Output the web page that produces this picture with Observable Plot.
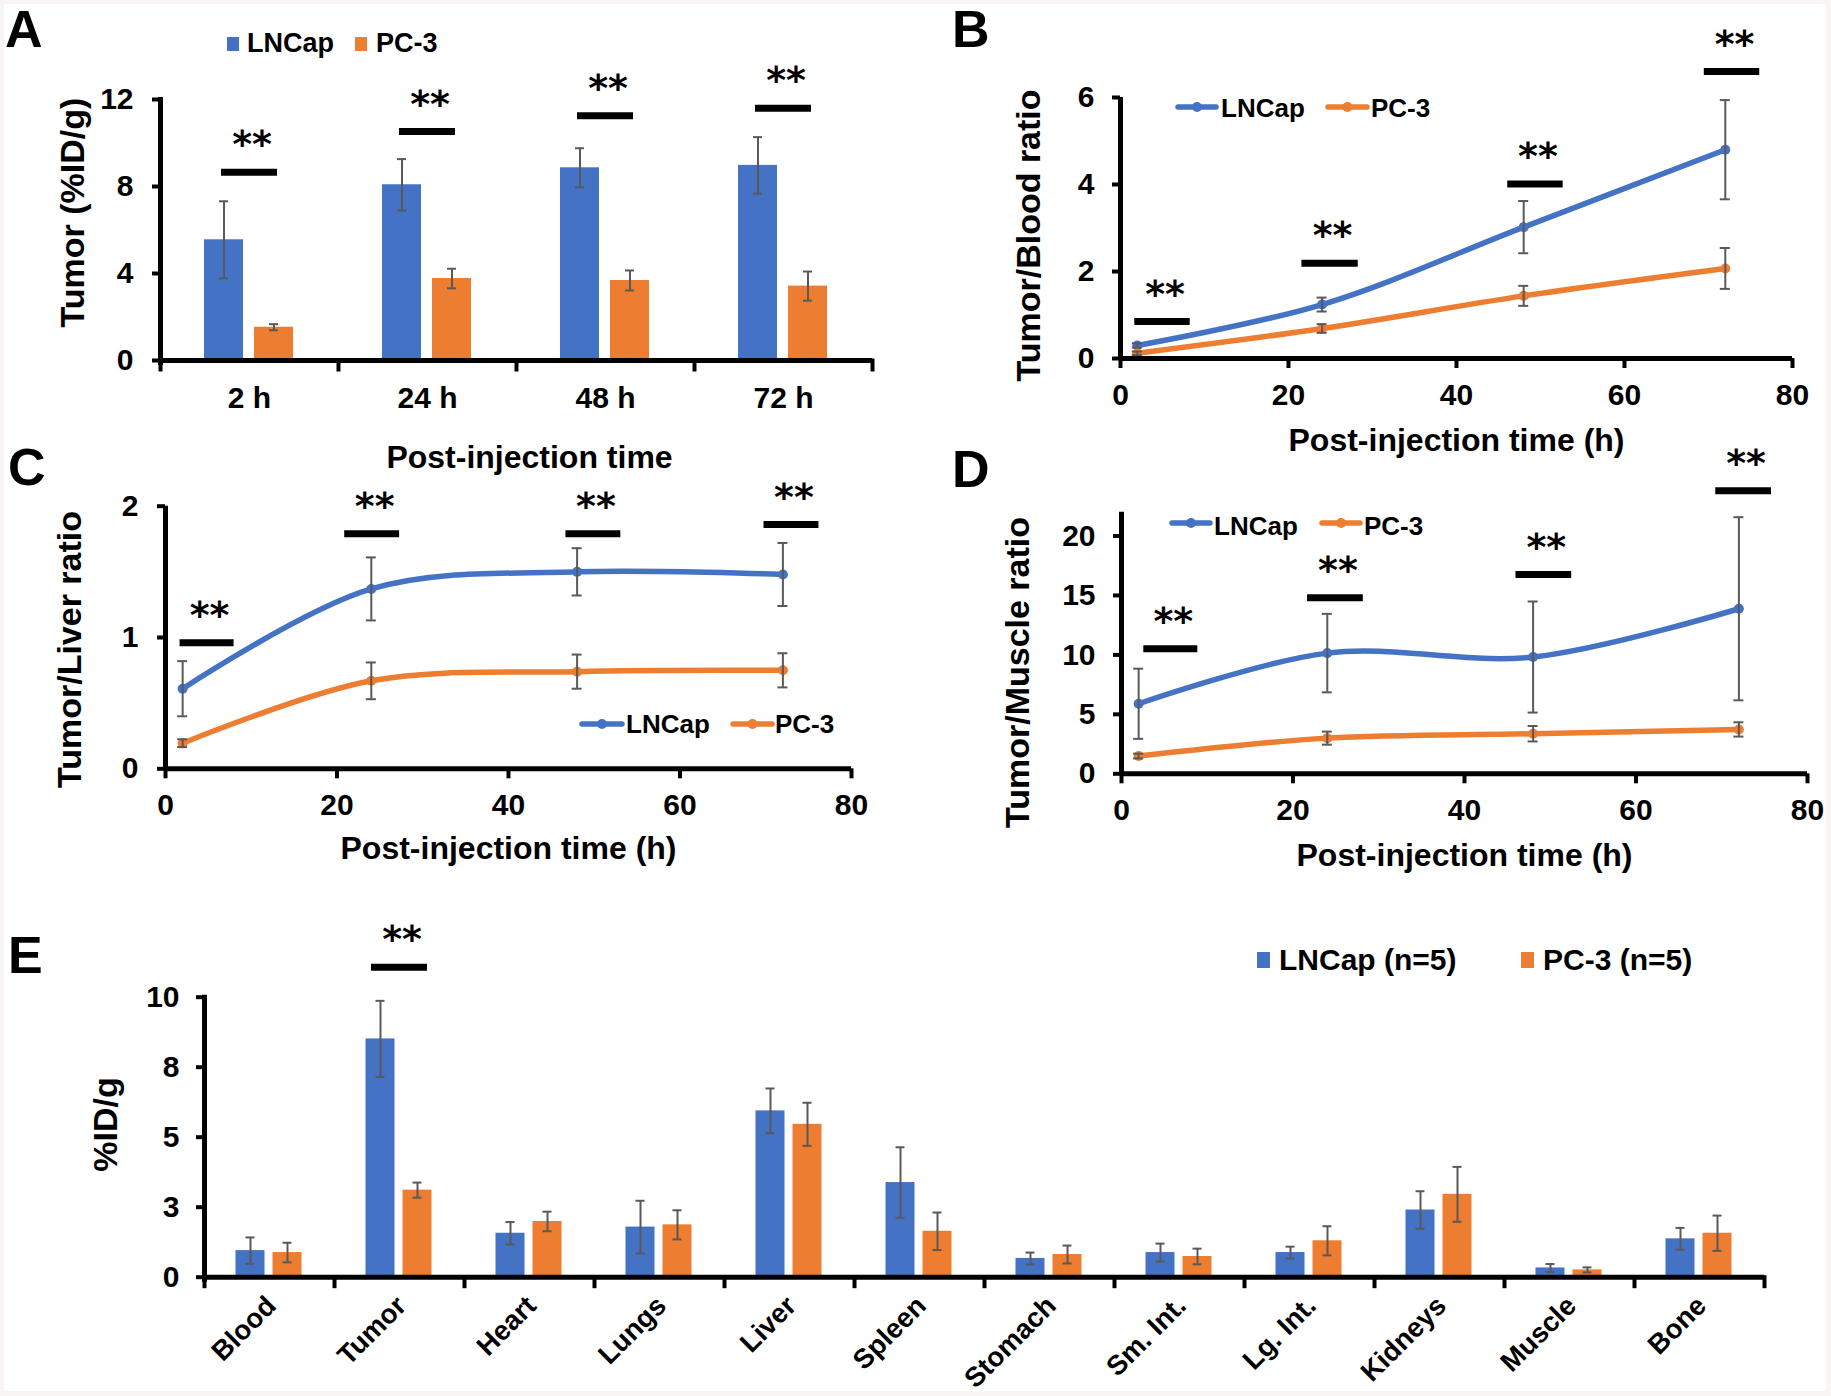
<!DOCTYPE html>
<html>
<head>
<meta charset="utf-8">
<script src="https://cdn.jsdelivr.net/npm/d3@7"></script>
<script src="https://cdn.jsdelivr.net/npm/@observablehq/plot@0.6"></script>
<style>
  body { margin: 0; background: #f9f5f5; }
  #fig { position: relative; width: 1831px; height: 1396px; background: #f9f5f5; overflow: hidden; }
  #paper { position: absolute; left: 4px; top: 4px; width: 1822px; height: 1387px; background: #ffffff; }
  .panel { position: absolute; }
  .panel svg { overflow: visible; background: transparent; }
  g[aria-label="stars"] text { letter-spacing: 5px; }
</style>
</head>
<body>
<div id="fig"><div id="paper"></div></div>
<script>
// ---------------- data ----------------
const series = ["LNCap", "PC-3"];
const seriesColors = ["#4472C4", "#ED7D31"];

// Panel A: Tumor uptake (%ID/g) by time
const timeLabels = ["2 h", "24 h", "48 h", "72 h"];
const aLNCap = [5.55, 8.08, 8.86, 8.97];
const aLNCapErr = [1.77, 1.18, 0.90, 1.30];
const aPC3 = [1.53, 3.77, 3.68, 3.42];
const aPC3Err = [0.14, 0.45, 0.46, 0.67];
const aSigY = [8.66, 10.53, 11.25, 11.6];
const aTicks = [0, 4, 8, 12];

// Panels B-D: ratios vs post-injection time (h)
const hours = [2, 24, 48, 72];
const xTicks = [0, 20, 40, 60, 80];

const bLNCap = [0.30, 1.24, 3.02, 4.80];
const bLNCapErr = [0.05, 0.16, 0.60, 1.14];
const bPC3 = [0.12, 0.69, 1.44, 2.07];
const bPC3Err = [0.04, 0.10, 0.23, 0.47];
const bSigX1 = [1.7, 21.6, 46.1, 69.5];
const bSigX2 = [8.3, 28.3, 52.7, 76.1];
const bSigY = [0.85, 2.19, 4.01, 6.6];
const bTicks = [0, 2, 4, 6];

const cLNCap = [0.61, 1.37, 1.50, 1.48];
const cLNCapErr = [0.21, 0.24, 0.18, 0.24];
const cPC3 = [0.195, 0.67, 0.74, 0.75];
const cPC3Err = [0.03, 0.14, 0.13, 0.13];
const cSigX1 = [1.7, 20.9, 46.7, 69.8];
const cSigX2 = [8.0, 27.3, 53.1, 76.2];
const cSigY = [0.96, 1.79, 1.79, 1.86];
const cTicks = [0, 1, 2];

const dLNCap = [5.89, 10.15, 9.82, 13.88];
const dLNCapErr = [2.95, 3.30, 4.67, 7.70];
const dPC3 = [1.49, 3.00, 3.37, 3.73];
const dPC3Err = [0.20, 0.55, 0.65, 0.60];
const dSigX1 = [2.6, 21.7, 46.0, 69.3];
const dSigX2 = [8.9, 28.2, 52.5, 75.8];
const dSigY = [10.52, 14.8, 16.77, 23.8];
const dTicks = [0, 5, 10, 15, 20];

// Panel E: biodistribution (%ID/g)
const organs = ["Blood", "Tumor", "Heart", "Lungs", "Liver", "Spleen", "Stomach", "Sm. Int.", "Lg. Int.", "Kidneys", "Muscle", "Bone"];
const eLNCap = [0.95, 8.51, 1.57, 1.79, 5.94, 3.38, 0.67, 0.88, 0.88, 2.40, 0.33, 1.37];
const eLNCapErr = [0.47, 1.36, 0.40, 0.94, 0.80, 1.26, 0.21, 0.32, 0.21, 0.67, 0.14, 0.39];
const ePC3 = [0.88, 3.11, 1.99, 1.87, 5.46, 1.64, 0.81, 0.74, 1.30, 2.96, 0.26, 1.57];
const ePC3Err = [0.35, 0.27, 0.35, 0.52, 0.77, 0.67, 0.32, 0.28, 0.52, 0.98, 0.09, 0.63];
const eSigOrgans = ["Tumor"];
const eSigY = [11.07];
const eTicks = [0, 2.5, 5, 7.5, 10];
const eTickLabels = ["0", "3", "5", "8", "10"];

// ---------------- helpers ----------------
function pairRows(cats, ln, lnE, pc, pcE) {
  const out = [];
  cats.forEach((c, i) => {
    out.push({c, s: series[0], v: ln[i], e: lnE[i]});
    out.push({c, s: series[1], v: pc[i], e: pcE[i]});
  });
  return out;
}
function sigRows(x1, x2, y) { return y.map((v, i) => ({x1: x1[i], x2: x2[i], y: v})); }

const FONT = "'Liberation Sans', Arial, Helvetica, sans-serif";
const svgStyle = `font-family:${FONT};font-weight:bold;font-size:30px;background:transparent;overflow:visible;color:#000;`;
const ERR = "#595959";
const color = {domain: series, range: seriesColors};
const starOpts = {fontFamily: "'DejaVu Sans', sans-serif", fontSize: 38, fontWeight: "bold", lineAnchor: "middle", dy: -27, dx: 2.5, ariaLabel: "stars"};
const intFormat = d => String(d);

function mount(node, left, top, width) {
  const d = document.createElement("div");
  d.className = "panel";
  d.style.left = left + "px";
  d.style.top = top + "px";
  d.style.width = width + "px";
  d.appendChild(node);
  document.getElementById("fig").appendChild(d);
}

// ---------------- bar panel (A, E) ----------------
function barPanel(o) {
  const frameH = o.height - o.mT - o.mB;
  return Plot.plot({
    width: o.width, height: o.height,
    marginLeft: o.mL, marginRight: o.mR, marginTop: o.mT, marginBottom: o.mB,
    style: svgStyle,
    fx: {domain: o.cats, padding: 0, axis: null},
    x: {domain: series, paddingInner: o.pI, paddingOuter: o.pO, axis: null},
    y: {domain: o.yDomain},
    color,
    marks: [
      Plot.barY(o.data, {fx: "c", x: "s", y: "v", fill: "s"}),
      Plot.ruleX(o.data, {fx: "c", x: "s", y1: d => d.v - d.e, y2: d => d.v + d.e, stroke: ERR, strokeWidth: 2}),
      Plot.tickY(o.data, {fx: "c", x: "s", y: d => d.v + d.e, stroke: ERR, strokeWidth: 2, insetLeft: o.cap, insetRight: o.cap}),
      Plot.tickY(o.data, {fx: "c", x: "s", y: d => d.v - d.e, stroke: ERR, strokeWidth: 2, insetLeft: o.cap, insetRight: o.cap}),
      Plot.ruleY([0], {stroke: "#000", strokeWidth: 5}),
      Plot.frame({anchor: "left", stroke: "#000", strokeWidth: 4, insetTop: frameH, insetBottom: -9}),
      Plot.frame({anchor: "right", facet: "super", stroke: "#000", strokeWidth: 4, insetTop: frameH, insetBottom: -9}),
      Plot.frame({anchor: "left", facet: "super", stroke: "#000", strokeWidth: 5, insetBottom: -2}),
      Plot.axisY({ticks: o.yTicks, tickFormat: o.yFormat, tickSize: 8, tickPadding: o.yPad, strokeWidth: 4, label: null, fontSize: 30, facetAnchor: "left"}),
      Plot.ruleY(o.sig, {fx: "c", y: "y", stroke: "#000", strokeWidth: 7, insetLeft: o.sigInset, insetRight: o.sigInset}),
      Plot.text(o.sig, {fx: "c", y: "y", text: d => "**", ...starOpts}),
      o.catText,
      ...o.titles
    ]
  });
}

const aData = pairRows(timeLabels, aLNCap, aLNCapErr, aPC3, aPC3Err);
const aSig = aSigY.map((y, i) => ({c: timeLabels[i], y}));
const plotA = barPanel({
  width: 900, height: 470, mL: 160, mR: 28, mT: 59, mB: 150,
  cats: timeLabels, data: aData, sig: aSig, yDomain: [0, 12], yTicks: aTicks, yFormat: intFormat, yPad: 19,
  pI: 0.216, pO: 0.86, cap: 15, sigInset: 61,
  catText: Plot.text(timeLabels, {fx: d => d, text: d => d, frameAnchor: "bottom", textAnchor: "middle", lineAnchor: "middle", dy: 38, fontSize: 30}),
  titles: [
    Plot.text(["Post-injection time"], {facet: "super", text: d => d, frameAnchor: "bottom", textAnchor: "middle", lineAnchor: "middle", dy: 97, dx: 13, fontSize: 32}),
    Plot.text(["Tumor (%ID/g)"], {facet: "super", text: d => d, frameAnchor: "left", textAnchor: "middle", rotate: -90, lineAnchor: "middle", dx: -87, dy: -17.5, fontSize: 34})
  ]
});
mount(plotA, 0, 40, 900);

const eData = pairRows(organs, eLNCap, eLNCapErr, ePC3, ePC3Err);
const eSig = eSigY.map((y, i) => ({c: eSigOrgans[i], y}));
const plotE = barPanel({
  width: 1831, height: 496, mL: 199.5, mR: 63.4, mT: 96.7, mB: 119.3,
  cats: organs, data: eData, sig: eSig, yDomain: [0, 10], yTicks: eTicks, yFormat: d => eTickLabels[eTicks.indexOf(d)], yPad: 17,
  pI: 0.21, pO: 0.82, cap: 10, sigInset: 37,
  catText: Plot.text(organs, {fx: d => d, text: d => d, frameAnchor: "bottom", rotate: -45, textAnchor: "end", lineAnchor: "middle", dx: 2, dy: 24, fontSize: 27.5}),
  titles: [
    Plot.text(["%ID/g"], {facet: "super", text: d => d, frameAnchor: "left", textAnchor: "middle", rotate: -90, lineAnchor: "middle", dx: -98.5, dy: -12.7, fontSize: 34})
  ]
});
mount(plotE, 0, 900, 1831);

// ---------------- line panels (B, C, D) ----------------
function linePanel(o) {
  const data = pairRows(hours, o.ln, o.lnE, o.pc, o.pcE);
  const sig = sigRows(o.sx1, o.sx2, o.sy);
  return Plot.plot({
    width: o.width, height: o.height,
    marginLeft: o.mL, marginRight: o.mR, marginTop: o.mT, marginBottom: o.mB,
    style: svgStyle,
    x: {domain: [0, 80]},
    y: {domain: o.yDomain},
    color,
    marks: [
      Plot.line(data, {x: "c", y: "v", z: "s", stroke: "s", curve: "catmull-rom", strokeWidth: 5.5}),
      Plot.dot(data, {x: "c", y: "v", fill: "s", r: 5}),
      Plot.ruleX(data, {x: "c", y1: d => d.v - d.e, y2: d => d.v + d.e, stroke: ERR, strokeWidth: 2}),
      Plot.ruleY(data, {x1: "c", x2: "c", y: d => d.v + d.e, stroke: ERR, strokeWidth: 2, insetLeft: -5, insetRight: -5}),
      Plot.ruleY(data, {x1: "c", x2: "c", y: d => d.v - d.e, stroke: ERR, strokeWidth: 2, insetLeft: -5, insetRight: -5}),
      Plot.ruleY([0], {stroke: "#000", strokeWidth: 5}),
      Plot.ruleX([0], {stroke: "#000", strokeWidth: 5}),
      Plot.axisX({ticks: xTicks, tickFormat: intFormat, tickSize: 10, tickPadding: 15, strokeWidth: 4, label: null, fontSize: 30}),
      Plot.axisY({ticks: o.yTicks, tickFormat: intFormat, tickSize: 8, tickPadding: o.yPad, strokeWidth: 4, label: null, fontSize: 30}),
      Plot.ruleY(sig, {x1: "x1", x2: "x2", y: "y", stroke: "#000", strokeWidth: 7}),
      Plot.text(sig, {x: d => (d.x1 + d.x2) / 2, y: "y", text: d => "**", ...starOpts}),
      Plot.text(["Post-injection time (h)"], {text: d => d, frameAnchor: "bottom", textAnchor: "middle", lineAnchor: "middle", dy: o.xTitleDy, fontSize: 32}),
      Plot.text([o.yTitle], {text: d => d, frameAnchor: "left", textAnchor: "middle", rotate: -90, lineAnchor: "middle", dx: o.yTitleDx, dy: o.yTitleDy, fontSize: 34})
    ]
  });
}

mount(linePanel({
  width: 871, height: 470, mL: 160, mR: 39, mT: 97, mB: 112,
  ln: bLNCap, lnE: bLNCapErr, pc: bPC3, pcE: bPC3Err, sx1: bSigX1, sx2: bSigX2, sy: bSigY,
  yDomain: [0, 6], yTicks: bTicks, yPad: 18,
  xTitleDy: 82, yTitle: "Tumor/Blood ratio", yTitleDx: -91, yTitleDy: 7.5
}), 960, 0, 871);

mount(linePanel({
  width: 900, height: 440, mL: 165, mR: 49, mT: 55.7, mB: 121.7,
  ln: cLNCap, lnE: cLNCapErr, pc: cPC3, pcE: cPC3Err, sx1: cSigX1, sx2: cSigX2, sy: cSigY,
  yDomain: [0, 2], yTicks: cTicks, yPad: 19,
  xTitleDy: 80, yTitle: "Tumor/Liver ratio", yTitleDx: -95, yTitleDy: 12
}), 0, 450, 900);

mount(linePanel({
  width: 871, height: 440, mL: 161, mR: 24, mT: 61.7, mB: 116.7,
  ln: dLNCap, lnE: dLNCapErr, pc: dPC3, pcE: dPC3Err, sx1: dSigX1, sx2: dSigX2, sy: dSigY,
  yDomain: [0, 22], yTicks: dTicks, yPad: 18,
  xTitleDy: 82, yTitle: "Tumor/Muscle ratio", yTitleDx: -103, yTitleDy: 29.5
}), 960, 450, 871);

// ---------------- panel letters and legends ----------------
const ov = d3.select("#fig").append("svg")
  .attr("width", 1831).attr("height", 1396)
  .style("position", "absolute").style("left", "0px").style("top", "0px")
  .style("font-family", FONT).style("font-weight", "bold");

const letters = [["A", 5, 47], ["B", 952, 47], ["C", 8, 485], ["D", 952, 487], ["E", 8, 973]];
ov.selectAll("text.letter").data(letters).join("text").attr("class", "letter")
  .attr("x", d => d[1]).attr("y", d => d[2])
  .attr("font-size", 52).text(d => d[0]);

function boxLegend(y0, w, h, ty, size, items) {
  items.forEach((it, i) => {
    ov.append("rect").attr("x", it.x).attr("y", y0).attr("width", w).attr("height", h).attr("fill", seriesColors[i]);
    ov.append("text").attr("x", it.tx).attr("y", ty).attr("font-size", size).text(it.label);
  });
}
function lineLegend(y, ty, size, items) {
  items.forEach((it, i) => {
    ov.append("line").attr("x1", it.x1).attr("x2", it.x2).attr("y1", y).attr("y2", y)
      .attr("stroke", seriesColors[i]).attr("stroke-width", 5.5).attr("stroke-linecap", "round");
    ov.append("circle").attr("cx", (it.x1 + it.x2) / 2).attr("cy", y).attr("r", 5).attr("fill", seriesColors[i]);
    ov.append("text").attr("x", it.tx).attr("y", ty).attr("font-size", size).text(series[i]);
  });
}

boxLegend(37, 12, 14, 52, 27, [
  {x: 227, tx: 247, label: series[0]},
  {x: 355, tx: 376, label: series[1]}
]);
lineLegend(107, 117, 26, [{x1: 1178, x2: 1216, tx: 1221}, {x1: 1328, x2: 1367, tx: 1371}]);
lineLegend(724, 733, 26, [{x1: 582, x2: 622, tx: 626}, {x1: 733, x2: 772, tx: 775}]);
lineLegend(523, 535, 26, [{x1: 1172, x2: 1210, tx: 1214}, {x1: 1322, x2: 1360, tx: 1364}]);
boxLegend(952, 13, 16, 970, 30, [
  {x: 1257, tx: 1279, label: series[0] + " (n=5)"},
  {x: 1521, tx: 1543, label: series[1] + " (n=5)"}
]);
</script>
</body>
</html>
